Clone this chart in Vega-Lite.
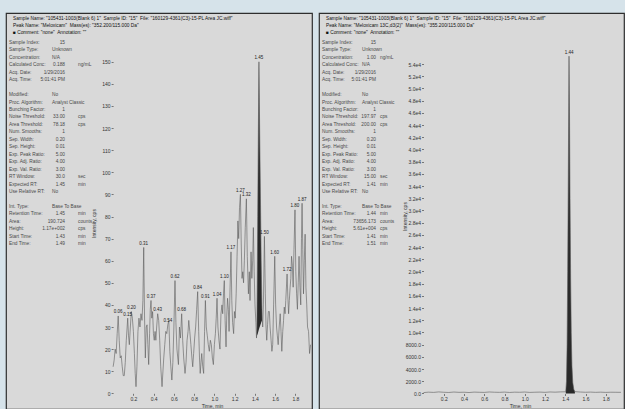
{
  "$schema": "https://vega.github.io/schema/vega-lite/v6.json",
  "background": "#d6e3ea",
  "padding": {"left": 5, "top": 12, "right": 4, "bottom": 1},
  "spacing": 5,
  "config": {
    "view": {"fill": "#d9d9d9", "stroke": "#2e2e2e", "strokeWidth": 1.2},
    "axis": {"labelFont": "Liberation Sans", "labelFontSize": 5, "labelColor": "#333", "tickColor": "#333", "tickSize": 2, "tickWidth": 0.6, "domain": false, "grid": false, "titleFont": "Liberation Sans", "titleFontSize": 5, "titleFontWeight": "normal", "titleColor": "#333", "labelPadding": 1, "labelOverlap": false, "labelFlush": false},
    "text": {"font": "Liberation Sans", "fontSize": 4.8, "color": "#4a4a4a"}
  },
  "datasets": {
    "leftTrace": [
      {"t":0,"v":12},{"t":0.01,"v":15},{"t":0.02,"v":20},{"t":0.03,"v":18},{"t":0.04,"v":27},{"t":0.05,"v":35,"lab":"0.06"},{"t":0.06,"v":24},{"t":0.07,"v":16},{"t":0.08,"v":17},{"t":0.09,"v":12},{"t":0.10,"v":8},{"t":0.11,"v":8},{"t":0.12,"v":14},{"t":0.13,"v":24},{"t":0.144,"v":34,"lab":"0.15"},{"t":0.152,"v":26},{"t":0.16,"v":22},{"t":0.17,"v":30},{"t":0.18,"v":37,"lab":"0.20"},{"t":0.19,"v":34},{"t":0.20,"v":28},{"t":0.21,"v":18},{"t":0.218,"v":9},{"t":0.226,"v":3},{"t":0.235,"v":12},{"t":0.245,"v":28},{"t":0.255,"v":34},{"t":0.265,"v":30},{"t":0.275,"v":36},{"t":0.285,"v":33},{"t":0.294,"v":42},{"t":0.302,"v":66,"lab":"0.31"},{"t":0.31,"v":35},{"t":0.318,"v":16},{"t":0.327,"v":30},{"t":0.335,"v":31},{"t":0.343,"v":22},{"t":0.351,"v":13},{"t":0.36,"v":27},{"t":0.367,"v":38},{"t":0.374,"v":42,"lab":"0.37"},{"t":0.382,"v":34},{"t":0.39,"v":37},{"t":0.398,"v":27},{"t":0.406,"v":24},{"t":0.414,"v":28},{"t":0.422,"v":24},{"t":0.43,"v":30},{"t":0.44,"v":36,"lab":"0.43"},{"t":0.45,"v":33},{"t":0.46,"v":24},{"t":0.47,"v":12},{"t":0.483,"v":3},{"t":0.492,"v":10},{"t":0.50,"v":16},{"t":0.51,"v":22},{"t":0.52,"v":28},{"t":0.53,"v":27},{"t":0.54,"v":31,"lab":"0.54"},{"t":0.55,"v":33},{"t":0.56,"v":19},{"t":0.57,"v":12},{"t":0.58,"v":6},{"t":0.59,"v":14},{"t":0.60,"v":30},{"t":0.611,"v":51,"lab":"0.62"},{"t":0.62,"v":32},{"t":0.63,"v":20},{"t":0.645,"v":13},{"t":0.655,"v":30},{"t":0.665,"v":25},{"t":0.677,"v":36,"lab":"0.68"},{"t":0.687,"v":24},{"t":0.697,"v":16},{"t":0.71,"v":9},{"t":0.72,"v":14},{"t":0.73,"v":24},{"t":0.74,"v":28},{"t":0.747,"v":33},{"t":0.757,"v":28},{"t":0.768,"v":22},{"t":0.778,"v":16},{"t":0.786,"v":12},{"t":0.795,"v":18},{"t":0.805,"v":25},{"t":0.815,"v":30},{"t":0.825,"v":38},{"t":0.835,"v":46,"lab":"0.84"},{"t":0.845,"v":28},{"t":0.853,"v":16},{"t":0.86,"v":9},{"t":0.868,"v":14},{"t":0.875,"v":18},{"t":0.885,"v":12},{"t":0.894,"v":9},{"t":0.903,"v":28},{"t":0.911,"v":42,"lab":"0.91"},{"t":0.92,"v":30},{"t":0.93,"v":26},{"t":0.94,"v":22},{"t":0.95,"v":19},{"t":0.96,"v":24},{"t":0.97,"v":22},{"t":0.98,"v":16},{"t":0.99,"v":13},{"t":1.00,"v":22},{"t":1.01,"v":27},{"t":1.018,"v":34},{"t":1.026,"v":43,"lab":"1.04"},{"t":1.035,"v":30},{"t":1.045,"v":24},{"t":1.055,"v":20},{"t":1.065,"v":36},{"t":1.075,"v":40},{"t":1.082,"v":36},{"t":1.09,"v":45},{"t":1.098,"v":51,"lab":"1.10"},{"t":1.106,"v":33},{"t":1.115,"v":21},{"t":1.122,"v":35},{"t":1.13,"v":43},{"t":1.138,"v":38},{"t":1.145,"v":28},{"t":1.155,"v":48},{"t":1.164,"v":64,"lab":"1.17"},{"t":1.172,"v":42},{"t":1.18,"v":32},{"t":1.19,"v":27},{"t":1.198,"v":37},{"t":1.206,"v":34},{"t":1.215,"v":45},{"t":1.224,"v":62},{"t":1.232,"v":78},{"t":1.24,"v":70},{"t":1.248,"v":84},{"t":1.257,"v":90,"lab":"1.27"},{"t":1.265,"v":68},{"t":1.273,"v":52},{"t":1.28,"v":55},{"t":1.288,"v":50},{"t":1.296,"v":60},{"t":1.305,"v":75},{"t":1.316,"v":88,"lab":"1.32"},{"t":1.325,"v":62},{"t":1.336,"v":45},{"t":1.345,"v":55},{"t":1.352,"v":42},{"t":1.362,"v":64},{"t":1.37,"v":52},{"t":1.378,"v":60},{"t":1.385,"v":75},{"t":1.393,"v":55},{"t":1.401,"v":40},{"t":1.41,"v":32},{"t":1.416,"v":25},{"t":1.42,"v":30},{"t":1.428,"v":80},{"t":1.434,"v":118},{"t":1.44,"v":150,"lab":"1.45"},{"t":1.447,"v":120},{"t":1.455,"v":88},{"t":1.462,"v":60},{"t":1.47,"v":38},{"t":1.477,"v":30},{"t":1.484,"v":40},{"t":1.494,"v":71,"lab":"1.50"},{"t":1.503,"v":45},{"t":1.51,"v":30},{"t":1.517,"v":24},{"t":1.525,"v":31},{"t":1.533,"v":37},{"t":1.543,"v":37},{"t":1.55,"v":30},{"t":1.56,"v":24},{"t":1.568,"v":19},{"t":1.576,"v":22},{"t":1.585,"v":40},{"t":1.596,"v":62,"lab":"1.60"},{"t":1.605,"v":40},{"t":1.614,"v":30},{"t":1.622,"v":26},{"t":1.63,"v":22},{"t":1.64,"v":30},{"t":1.65,"v":36},{"t":1.658,"v":28},{"t":1.666,"v":19},{"t":1.675,"v":28},{"t":1.683,"v":33},{"t":1.69,"v":39},{"t":1.698,"v":36},{"t":1.705,"v":42},{"t":1.718,"v":54,"lab":"1.72"},{"t":1.725,"v":44},{"t":1.733,"v":36},{"t":1.74,"v":42},{"t":1.748,"v":48},{"t":1.755,"v":52},{"t":1.762,"v":62},{"t":1.77,"v":58},{"t":1.778,"v":48},{"t":1.786,"v":65},{"t":1.796,"v":83,"lab":"1.80"},{"t":1.804,"v":55},{"t":1.812,"v":45},{"t":1.82,"v":38},{"t":1.828,"v":50},{"t":1.836,"v":62},{"t":1.845,"v":48},{"t":1.853,"v":40},{"t":1.86,"v":70},{"t":1.866,"v":86,"lab":"1.87"},{"t":1.873,"v":65},{"t":1.88,"v":45},{"t":1.888,"v":60},{"t":1.896,"v":72},{"t":1.904,"v":48},{"t":1.912,"v":40},{"t":1.92,"v":30},{"t":1.93,"v":28},{"t":1.94,"v":18},{"t":1.95,"v":22}
    ],
    "leftPeak": [
      {"t":1.416,"v":25,"b":25},{"t":1.42,"v":30,"b":26},{"t":1.428,"v":80,"b":27},{"t":1.434,"v":118,"b":28},{"t":1.44,"v":150,"b":29},{"t":1.447,"v":120,"b":30},{"t":1.455,"v":88,"b":31},{"t":1.462,"v":60,"b":32},{"t":1.47,"v":38,"b":33}
    ],
    "rightTrace": [
      {"t":0,"v":150},{"t":0.05,"v":220},{"t":0.1,"v":180},{"t":0.15,"v":260},{"t":0.2,"v":200},{"t":0.25,"v":170},{"t":0.3,"v":240},{"t":0.35,"v":190},{"t":0.4,"v":210},{"t":0.45,"v":160},{"t":0.5,"v":230},{"t":0.55,"v":200},{"t":0.6,"v":180},{"t":0.65,"v":250},{"t":0.7,"v":210},{"t":0.75,"v":190},{"t":0.8,"v":230},{"t":0.85,"v":170},{"t":0.9,"v":220},{"t":0.95,"v":200},{"t":1.0,"v":240},{"t":1.05,"v":180},{"t":1.1,"v":210},{"t":1.15,"v":230},{"t":1.2,"v":190},{"t":1.25,"v":250},{"t":1.3,"v":220},{"t":1.35,"v":260},{"t":1.4,"v":280},{"t":1.405,"v":300},{"t":1.412,"v":2000},{"t":1.418,"v":8000},{"t":1.424,"v":20000},{"t":1.43,"v":36000},{"t":1.437,"v":55300,"lab":"1.44"},{"t":1.442,"v":46000},{"t":1.447,"v":32000},{"t":1.453,"v":19000},{"t":1.459,"v":10000},{"t":1.466,"v":4500},{"t":1.474,"v":1800},{"t":1.484,"v":700},{"t":1.495,"v":300},{"t":1.55,"v":240},{"t":1.6,"v":200},{"t":1.65,"v":230},{"t":1.7,"v":190},{"t":1.75,"v":220},{"t":1.8,"v":180},{"t":1.85,"v":210},{"t":1.9,"v":200},{"t":1.95,"v":190}
    ],
    "rightPeak": [
      {"t":1.405,"v":300},{"t":1.412,"v":2000},{"t":1.418,"v":8000},{"t":1.424,"v":20000},{"t":1.43,"v":36000},{"t":1.437,"v":55300},{"t":1.442,"v":46000},{"t":1.447,"v":32000},{"t":1.453,"v":19000},{"t":1.459,"v":10000},{"t":1.466,"v":4500},{"t":1.474,"v":1800},{"t":1.484,"v":700},{"t":1.495,"v":300}
    ],
    "leftHead": [
      {"hl":0,"text":"Sample Name: \"105431-1003(Blank 6) 1\"\u00a0 Sample ID: \"15\"\u00a0 File: \"160129-4361(C3)-15-PL Area JC.wiff\""},
      {"hl":1,"text":"Peak Name: \"Meloxicam\"\u00a0 Mass(es): \"352.200/115.000 Da\""},
      {"hl":2,"text":"\u25a0 Comment: \"none\"\u00a0 Annotation: \"\""}
    ],
    "rightHead": [
      {"hl":0,"text":"Sample Name: \"105431-1003(Blank 6) 1\"\u00a0 Sample ID: \"15\"\u00a0 File: \"160129-4361(C3)-15-PL Area JC.wiff\""},
      {"hl":1,"text":"Peak Name: \"Meloxicam 13C,d3(2)\"\u00a0 Mass(es): \"355.200/115.000 Da\""},
      {"hl":2,"text":"\u25a0 Comment: \"none\"\u00a0 Annotation: \"\""}
    ],
    "leftInfo": [
      {"line":0,"name":"Sample Index:","num":"15"},
      {"line":1,"name":"Sample Type:","txt":"Unknown"},
      {"line":2,"name":"Concentration:","txt":"N/A"},
      {"line":3,"name":"Calculated Conc:","num":"0.188","unit":"ng/mL"},
      {"line":4,"name":"Acq. Date:","num":"1/29/2016"},
      {"line":5,"name":"Acq. Time:","num":"5:01:41 PM"},
      {"line":7,"name":"Modified:","txt":"No"},
      {"line":8,"name":"Proc. Algorithm:","txt":"Analyst Classic"},
      {"line":9,"name":"Bunching Factor:","num":"1"},
      {"line":10,"name":"Noise Threshold:","num":"33.00","unit":"cps"},
      {"line":11,"name":"Area Threshold:","num":"78.18","unit":"cps"},
      {"line":12,"name":"Num. Smooths:","num":"1"},
      {"line":13,"name":"Sep. Width:","num":"0.20"},
      {"line":14,"name":"Sep. Height:","num":"0.01"},
      {"line":15,"name":"Exp. Peak Ratio:","num":"5.00"},
      {"line":16,"name":"Exp. Adj. Ratio:","num":"4.00"},
      {"line":17,"name":"Exp. Val. Ratio:","num":"3.00"},
      {"line":18,"name":"RT Window:","num":"30.0","unit":"sec"},
      {"line":19,"name":"Expected RT:","num":"1.45","unit":"min"},
      {"line":20,"name":"Use Relative RT:","txt":"No"},
      {"line":22,"name":"Int. Type:","txt":"Base To Base"},
      {"line":23,"name":"Retention Time:","num":"1.45","unit":"min"},
      {"line":24,"name":"Area:","num":"190.724","unit":"counts"},
      {"line":25,"name":"Height:","num":"1.17e+002","unit":"cps"},
      {"line":26,"name":"Start Time:","num":"1.43","unit":"min"},
      {"line":27,"name":"End Time:","num":"1.49","unit":"min"}
    ],
    "rightInfo": [
      {"line":0,"name":"Sample Index:","num":"15"},
      {"line":1,"name":"Sample Type:","txt":"Unknown"},
      {"line":2,"name":"Concentration:","num":"1.00","unit":"ng/mL"},
      {"line":3,"name":"Calculated Conc:","txt":"N/A"},
      {"line":4,"name":"Acq. Date:","num":"1/29/2016"},
      {"line":5,"name":"Acq. Time:","num":"5:01:41 PM"},
      {"line":7,"name":"Modified:","txt":"No"},
      {"line":8,"name":"Proc. Algorithm:","txt":"Analyst Classic"},
      {"line":9,"name":"Bunching Factor:","num":"1"},
      {"line":10,"name":"Noise Threshold:","num":"197.97","unit":"cps"},
      {"line":11,"name":"Area Threshold:","num":"200.00","unit":"cps"},
      {"line":12,"name":"Num. Smooths:","num":"1"},
      {"line":13,"name":"Sep. Width:","num":"0.20"},
      {"line":14,"name":"Sep. Height:","num":"0.01"},
      {"line":15,"name":"Exp. Peak Ratio:","num":"5.00"},
      {"line":16,"name":"Exp. Adj. Ratio:","num":"4.00"},
      {"line":17,"name":"Exp. Val. Ratio:","num":"3.00"},
      {"line":18,"name":"RT Window:","num":"15.00","unit":"sec"},
      {"line":19,"name":"Expected RT:","num":"1.41","unit":"min"},
      {"line":20,"name":"Use Relative RT:","txt":"No"},
      {"line":22,"name":"Int. Type:","txt":"Base To Base"},
      {"line":23,"name":"Retention Time:","num":"1.44","unit":"min"},
      {"line":24,"name":"Area:","num":"73656.173","unit":"counts"},
      {"line":25,"name":"Height:","num":"5.61e+004","unit":"cps"},
      {"line":26,"name":"Start Time:","num":"1.41","unit":"min"},
      {"line":27,"name":"End Time:","num":"1.51","unit":"min"}
    ]
  },
  "hconcat": [
    {
      "width": 306,
      "height": 396,
      "resolve": {"scale": {"x": "independent", "y": "independent"}},
      "layer": [
        {
          "data": {"name": "leftTrace"},
          "encoding": {
            "x": {"field": "t", "type": "quantitative", "scale": {"domain": [-1.058, 1.964], "nice": false, "zero": false},
              "axis": {"title": "Time, min", "offset": -15.7, "values": [0.2,0.4,0.6,0.8,1.0,1.2,1.4,1.6,1.8], "format": ".1f", "titleX": 206, "titleY": 10, "titleBaseline": "top"}},
            "y": {"field": "v", "type": "quantitative", "scale": {"domain": [-7.1, 172.08], "nice": false, "zero": false},
              "axis": {"title": "Intensity, cps", "offset": -107.1, "values": [0,10,20,30,40,50,60,70,80,90,100,110,120,130,140,150], "titleX": -17, "titleY": 210}}
          },
          "layer": [
            {"data": {"name": "leftPeak"}, "mark": {"type": "area", "color": "#2a2a2a"}, "encoding": {"y2": {"field": "b"}}},
            {"mark": {"type": "line", "color": "#5a5a5a", "strokeWidth": 0.6}},
            {"transform": [{"filter": "isValid(datum.lab)"}], "mark": {"type": "text", "baseline": "bottom", "dy": -1.5, "fontSize": 4.5, "color": "#222"}, "encoding": {"text": {"field": "lab"}}},
            {"data": {"values": [{}]}, "mark": {"type": "rule", "color": "#333", "strokeWidth": 0.8}, "encoding": {"x": {"datum": 0, "type": "quantitative"}, "y": {"datum": 0, "type": "quantitative"}, "y2": {"datum": 152.6}}},
            {"data": {"values": [{}]}, "mark": {"type": "rule", "color": "#333", "strokeWidth": 0.8}, "encoding": {"x": {"datum": 0, "type": "quantitative"}, "x2": {"datum": 1.95}, "y": {"datum": 0, "type": "quantitative"}}}
          ]
        },
        {
          "data": {"name": "leftHead"},
          "mark": {"type": "text", "align": "left", "baseline": "middle", "color": "#111"},
          "encoding": {"x": {"value": 7}, "y": {"field": "hl", "type": "quantitative", "scale": {"domain": [-0.857, 55.714], "reverse": true, "nice": false, "zero": false}, "axis": null}, "text": {"field": "text"}}
        },
        {
          "data": {"name": "leftInfo"},
          "mark": {"type": "text", "align": "left", "baseline": "middle"},
          "encoding": {"x": {"value": 3}, "y": {"field": "line", "type": "quantitative", "scale": {"domain": [-4.027, 49.128], "reverse": true, "nice": false, "zero": false}, "axis": null}, "text": {"field": "name"}}
        },
        {
          "data": {"name": "leftInfo"},
          "transform": [{"filter": "isValid(datum.num)"}],
          "mark": {"type": "text", "align": "right", "baseline": "middle"},
          "encoding": {"x": {"value": 59}, "y": {"field": "line", "type": "quantitative", "scale": {"domain": [-4.027, 49.128], "reverse": true, "nice": false, "zero": false}, "axis": null}, "text": {"field": "num"}}
        },
        {
          "data": {"name": "leftInfo"},
          "transform": [{"filter": "isValid(datum.txt)"}],
          "mark": {"type": "text", "align": "left", "baseline": "middle"},
          "encoding": {"x": {"value": 46}, "y": {"field": "line", "type": "quantitative", "scale": {"domain": [-4.027, 49.128], "reverse": true, "nice": false, "zero": false}, "axis": null}, "text": {"field": "txt"}}
        },
        {
          "data": {"name": "leftInfo"},
          "transform": [{"filter": "isValid(datum.unit)"}],
          "mark": {"type": "text", "align": "left", "baseline": "middle"},
          "encoding": {"x": {"value": 72}, "y": {"field": "line", "type": "quantitative", "scale": {"domain": [-4.027, 49.128], "reverse": true, "nice": false, "zero": false}, "axis": null}, "text": {"field": "unit"}}
        }
      ]
    },
    {
      "width": 305,
      "height": 396,
      "resolve": {"scale": {"x": "independent", "y": "independent"}},
      "layer": [
        {
          "data": {"name": "rightTrace"},
          "encoding": {
            "x": {"field": "t", "type": "quantitative", "scale": {"domain": [-1.032, 1.98], "nice": false, "zero": false},
              "axis": {"title": "Time, min", "offset": -15.5, "values": [0.2,0.4,0.6,0.8,1.0,1.2,1.4,1.6,1.8], "format": ".1f", "titleX": 201, "titleY": 10, "titleBaseline": "top"}},
            "y": {"field": "v", "type": "quantitative", "scale": {"domain": [-2541, 62377], "nice": false, "zero": false},
              "axis": {"title": "Intensity, cps", "offset": -104.5, "values": [0,2000,4000,6000,8000,10000,12000,14000,16000,18000,20000,22000,24000,26000,28000,30000,32000,34000,36000,38000,40000,42000,44000,46000,48000,50000,52000,54000], "labelExpr": "datum.value >= 10000 ? format(datum.value / 10000, '.1f') + 'e4' : format(datum.value, '.1f')", "titleX": -16, "titleY": 203}}
          },
          "layer": [
            {"data": {"name": "rightPeak"}, "mark": {"type": "area", "color": "#2a2a2a"}, "encoding": {"y2": {"datum": 0}}},
            {"mark": {"type": "line", "color": "#5a5a5a", "strokeWidth": 0.6}},
            {"transform": [{"filter": "isValid(datum.lab)"}], "mark": {"type": "text", "baseline": "bottom", "dy": -1.5, "fontSize": 4.5, "color": "#222"}, "encoding": {"text": {"field": "lab"}}},
            {"data": {"values": [{}]}, "mark": {"type": "rule", "color": "#333", "strokeWidth": 0.8}, "encoding": {"x": {"datum": 0, "type": "quantitative"}, "y": {"datum": 0, "type": "quantitative"}, "y2": {"datum": 55300}}},
            {"data": {"values": [{}]}, "mark": {"type": "rule", "color": "#333", "strokeWidth": 0.8}, "encoding": {"x": {"datum": 0, "type": "quantitative"}, "x2": {"datum": 1.96}, "y": {"datum": 0, "type": "quantitative"}}}
          ]
        },
        {
          "data": {"name": "rightHead"},
          "mark": {"type": "text", "align": "left", "baseline": "middle", "color": "#111"},
          "encoding": {"x": {"value": 7}, "y": {"field": "hl", "type": "quantitative", "scale": {"domain": [-0.857, 55.714], "reverse": true, "nice": false, "zero": false}, "axis": null}, "text": {"field": "text"}}
        },
        {
          "data": {"name": "rightInfo"},
          "mark": {"type": "text", "align": "left", "baseline": "middle"},
          "encoding": {"x": {"value": 3}, "y": {"field": "line", "type": "quantitative", "scale": {"domain": [-4.027, 49.128], "reverse": true, "nice": false, "zero": false}, "axis": null}, "text": {"field": "name"}}
        },
        {
          "data": {"name": "rightInfo"},
          "transform": [{"filter": "isValid(datum.num)"}],
          "mark": {"type": "text", "align": "right", "baseline": "middle"},
          "encoding": {"x": {"value": 57}, "y": {"field": "line", "type": "quantitative", "scale": {"domain": [-4.027, 49.128], "reverse": true, "nice": false, "zero": false}, "axis": null}, "text": {"field": "num"}}
        },
        {
          "data": {"name": "rightInfo"},
          "transform": [{"filter": "isValid(datum.txt)"}],
          "mark": {"type": "text", "align": "left", "baseline": "middle"},
          "encoding": {"x": {"value": 43}, "y": {"field": "line", "type": "quantitative", "scale": {"domain": [-4.027, 49.128], "reverse": true, "nice": false, "zero": false}, "axis": null}, "text": {"field": "txt"}}
        },
        {
          "data": {"name": "rightInfo"},
          "transform": [{"filter": "isValid(datum.unit)"}],
          "mark": {"type": "text", "align": "left", "baseline": "middle"},
          "encoding": {"x": {"value": 61}, "y": {"field": "line", "type": "quantitative", "scale": {"domain": [-4.027, 49.128], "reverse": true, "nice": false, "zero": false}, "axis": null}, "text": {"field": "unit"}}
        }
      ]
    }
  ]
}
